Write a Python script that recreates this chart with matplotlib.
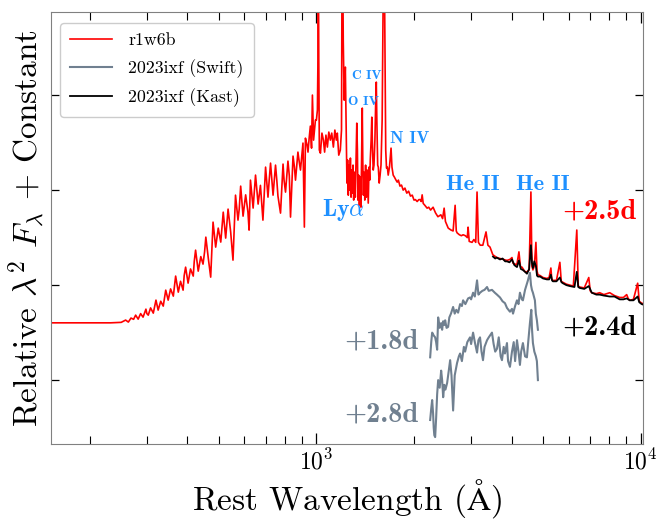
import numpy as np
import matplotlib
matplotlib.use('Agg')
from matplotlib import pyplot as plt
from matplotlib.ticker import NullFormatter

plt.rcParams['font.family'] = ['cmr10', 'DejaVu Serif']
plt.rcParams['mathtext.fontset'] = 'cm'
plt.rcParams['axes.formatter.use_mathtext'] = True

# model r1w6b (+2.5d), wavelength in Angstrom, flux in plot units
w_model = [153, 190, 232, 250,
           258, 263, 268, 273, 277, 282, 287, 292, 298, 300, 303, 308, 314, 320, 325, 331,
           337, 340, 343, 349, 355, 362, 368, 375, 381, 388, 391, 395, 402, 409, 417, 420,
           424, 432, 440, 447, 452, 456, 464, 472, 480, 489, 498, 507, 516, 520, 525, 534,
           544, 553, 563, 573, 578, 584, 594, 600, 605, 615, 620, 626, 638, 649, 655, 661,
           672, 684, 690, 697, 709, 715, 722, 735, 748, 755, 761, 775, 789, 795, 803, 817,
           825, 832, 847, 855, 862, 877, 885, 893, 909, 918, 925, 935, 942, 950, 958, 966,
           972, 980, 993,
           1000, 1007, 1011, 1014, 1017, 1021, 1029, 1040, 1051, 1060, 1070, 1081, 1092,
           1104, 1115, 1128, 1140, 1152, 1160, 1172, 1185, 1195, 1200, 1205, 1210, 1218,
           1228, 1236, 1242, 1248, 1254, 1260, 1266, 1273, 1279, 1285, 1291, 1297, 1303,
           1310, 1318, 1325, 1332, 1338, 1343, 1350, 1357, 1366, 1372, 1380, 1385, 1390,
           1396, 1403, 1410, 1418, 1426, 1435, 1445, 1453, 1460, 1466, 1475, 1482, 1490,
           1497, 1505, 1515, 1525, 1530, 1536, 1545, 1552, 1562, 1572, 1582, 1595, 1603,
           1610, 1619, 1628, 1636, 1645, 1655, 1665, 1680, 1699, 1710, 1725, 1740, 1760,
           1775, 1790, 1810, 1830, 1852, 1875, 1900, 1925, 1950, 1975, 2000,
           2020, 2045, 2070, 2089, 2105, 2119, 2135, 2160,
           2195, 2220, 2250, 2290, 2330, 2370, 2420, 2450, 2477, 2500, 2550, 2600, 2640,
           2678, 2700, 2716, 2760, 2800, 2834, 2880, 2920, 2936, 2960, 3020, 3060, 3100,
           3129, 3160, 3200, 3260, 3335, 3380, 3431, 3500, 3600, 3683, 3780, 3870, 3950,
           4010, 4040, 4100, 4154, 4213, 4260, 4303, 4360, 4400, 4460, 4530, 4587, 4620,
           4653, 4700, 4753, 4790, 4821, 4900, 5000, 5138, 5220, 5286, 5320, 5360, 5500,
           5634, 5690, 5754, 5900, 6045, 6200, 6354, 6420, 6490, 6700, 6918, 6990, 7066,
           7300, 7476, 7700, 8028, 8300, 8619, 8850, 9056, 9150, 9252, 9500, 9790, 9900,
           10071, 10288]
f_model = [1.603, 1.603, 1.603, 1.608,
           1.632, 1.611, 1.653, 1.640, 1.684, 1.642, 1.700, 1.663, 1.747, 1.700, 1.684, 1.760, 1.705, 1.842, 1.737, 1.830,
           1.779, 1.860, 1.947, 1.842, 1.960, 1.884, 2.095, 1.926, 2.040, 1.947, 2.100, 2.189, 2.021, 2.170, 2.095, 2.250,
           2.368, 2.147, 2.300, 2.221, 2.350, 2.505, 2.284, 2.084, 2.663, 2.400, 2.600, 2.453, 2.768, 2.650, 2.495, 2.800,
           2.558, 2.263, 2.947, 2.684, 2.800, 3.042, 2.726, 2.850, 2.950, 2.768, 2.579, 3.105, 2.811, 3.158, 3.000, 2.853,
           3.050, 2.684, 2.950, 3.242, 2.926, 3.100, 3.284, 2.947, 3.263, 3.100, 2.937, 2.758, 3.274, 3.100, 2.979, 3.305,
           3.150, 2.716, 3.358, 3.250, 3.105, 3.400, 3.300, 3.211, 3.495, 2.611, 3.547, 3.480, 3.400, 3.550, 3.674, 3.442,
           4.000, 3.526, 3.737,
           3.737, 3.842, 4.368, 5.500, 4.368, 3.421, 3.389, 3.600, 3.526, 3.400, 3.579, 3.453, 3.611,
           3.526, 3.600, 3.453, 3.632, 3.526, 3.600, 3.368, 3.421, 3.632, 5.500, 5.500, 4.579, 3.947,
           4.295, 3.632, 3.074, 3.316, 2.947, 3.263, 3.000, 3.337, 2.926, 3.211, 2.968, 3.263, 2.895,
           3.189, 2.926, 3.316, 3.705, 3.421, 2.895, 3.158, 2.842, 3.137, 2.821, 3.421, 3.863, 3.316,
           2.947, 3.189, 2.895, 3.263, 2.926, 3.211, 2.863, 3.242, 3.105, 3.316, 3.526, 3.768, 3.421,
           3.211, 3.263, 3.526, 4.000, 4.137, 3.737, 3.263, 3.242, 3.074, 3.158, 3.263, 3.737, 4.579,
           5.500, 5.500, 4.368, 3.421, 3.232, 3.242, 3.158, 3.242, 3.442, 3.242, 3.158, 3.137, 3.105,
           3.084, 3.105, 3.042, 3.053, 3.000, 3.021, 2.968, 2.989, 2.937, 2.947, 2.895,
           2.90, 2.88, 2.90, 2.90, 2.88, 2.95, 2.86, 2.84,
           2.81, 2.82, 2.79, 2.82, 2.76, 2.72, 2.74, 2.70, 2.81, 2.67, 2.60, 2.58, 2.57,
           2.84, 2.57, 2.55, 2.53, 2.52, 2.53, 2.52, 2.50, 2.61, 2.46, 2.45, 2.48, 2.45,
           2.98, 2.45, 2.42, 2.42, 2.56, 2.42, 2.40, 2.32, 2.29, 2.28, 2.27, 2.26, 2.27,
           2.29, 2.23, 2.22, 2.22, 2.35, 2.19, 2.19, 2.16, 2.14, 2.14, 2.16, 2.98, 2.20,
           2.16, 2.20, 2.45, 2.15, 2.11, 2.10, 2.08, 2.07, 2.08, 2.18, 2.06, 2.05, 2.05,
           2.24, 2.04, 2.03, 2.01, 2.00, 1.99, 2.58, 1.99, 1.98, 1.97, 2.08, 1.94, 1.92,
           1.91, 1.92, 1.90, 1.92, 1.89, 1.87, 1.87, 1.90, 1.86, 1.84, 1.85, 2.02, 1.83,
           1.81, 1.80]

# 2023ixf Kast optical (+2.4d)
w_kast = [3505, 3560, 3600, 3683, 3750, 3820, 3870, 3940, 4010, 4080, 4155, 4213, 4270,
          4330, 4400, 4460, 4530, 4587, 4620, 4653, 4700, 4753, 4790, 4821, 4900, 5000,
          5138, 5220, 5286, 5330, 5360, 5500, 5634, 5700, 5754, 5900, 6045, 6250, 6354,
          6420, 6490, 6700, 6918, 7066, 7300, 7476, 7700, 8028, 8300, 8619, 8850, 9056,
          9252, 9500, 9790, 9900, 10071, 10288]
f_kast = [2.30, 2.28, 2.29, 2.27, 2.28, 2.25, 2.25, 2.24, 2.27, 2.21, 2.19, 2.26, 2.17,
          2.16, 2.14, 2.12, 2.17, 2.42, 2.24, 2.18, 2.25, 2.20, 2.10, 2.09, 2.09, 2.07,
          2.06, 2.06, 2.11, 2.05, 2.04, 2.04, 2.08, 2.03, 2.02, 2.00, 1.99, 1.98, 2.14,
          1.98, 1.97, 1.96, 1.99, 1.92, 1.90, 1.90, 1.89, 1.88, 1.88, 1.85, 1.85, 1.86,
          1.84, 1.84, 1.88, 1.82, 1.80, 1.79]

# 2023ixf Swift UV (+1.8d)
w_sw1 = [2243, 2260, 2275, 2300, 2324, 2340, 2357, 2374, 2400, 2425, 2442, 2460, 2480,
         2495, 2520, 2548, 2570, 2600, 2640, 2670, 2700, 2735, 2774, 2810, 2834, 2880,
         2936, 2977, 3000, 3042, 3080, 3129, 3160, 3196, 3250, 3300, 3359, 3400, 3479,
         3550, 3605, 3683, 3750, 3815, 3870, 3953, 4010, 4040, 4100, 4155, 4200, 4243,
         4300, 4334, 4400, 4491, 4555, 4590, 4620, 4653, 4719, 4750, 4786, 4821]
f_sw1 = [1.24, 1.40, 1.50, 1.47, 1.45, 1.40, 1.32, 1.66, 1.55, 1.60, 1.53, 1.62, 1.58,
         1.63, 1.55, 1.56, 1.66, 1.70, 1.77, 1.70, 1.74, 1.71, 1.80, 1.78, 1.84, 1.80,
         1.86, 1.87, 1.85, 1.92, 1.88, 2.05, 1.90, 1.92, 1.94, 1.95, 1.98, 1.94, 1.95,
         1.92, 1.90, 1.87, 1.83, 1.81, 1.76, 1.72, 1.75, 1.70, 1.78, 1.84, 1.80, 1.92,
         1.85, 1.84, 1.95, 2.05, 2.13, 2.00, 1.95, 1.92, 1.84, 1.70, 1.63, 1.53]

# 2023ixf Swift UV (+2.8d)
w_sw2 = [2243, 2260, 2275, 2290, 2300, 2310, 2324, 2340, 2357, 2374, 2400, 2425, 2442,
         2460, 2480, 2500, 2530, 2560, 2585, 2610, 2640, 2670, 2715, 2750, 2774, 2810,
         2850, 2875, 2920, 2977, 3000, 3042, 3080, 3129, 3160, 3196, 3230, 3264, 3300,
         3359, 3400, 3479, 3520, 3560, 3605, 3650, 3700, 3735, 3780, 3815, 3870, 3900,
         3953, 4010, 4060, 4100, 4155, 4200, 4243, 4280, 4334, 4400, 4459, 4500, 4555,
         4600, 4620, 4653, 4700, 4752, 4786, 4821]
f_sw2 = [0.58, 0.70, 0.79, 0.65, 0.50, 0.42, 0.40, 0.60, 0.85, 1.00, 0.92, 1.10, 1.00,
         0.82, 0.95, 0.90, 0.97, 1.10, 1.21, 1.05, 0.68, 1.05, 1.18, 1.25, 1.28, 1.20,
         1.35, 1.30, 1.40, 1.45, 1.38, 1.50, 1.40, 1.29, 1.42, 1.45, 1.30, 1.21, 1.35,
         1.42, 1.45, 1.50, 1.38, 1.30, 1.33, 1.45, 1.25, 1.21, 1.35, 1.28, 1.39, 1.20,
         1.14, 1.30, 1.40, 1.20, 1.42, 1.30, 1.16, 1.30, 1.39, 1.25, 1.24, 1.40, 1.60,
         1.74, 1.55, 1.39, 1.30, 1.25, 1.20, 1.00]

blue = '#1e90ff'
grey = '#708090'
bold = 'cmb10'

fig = plt.figure(figsize=(6.64, 5.25), dpi=100)
ax = fig.add_axes([0.077, 0.154, 0.891, 0.823])

ax.plot(w_model, f_model, color='red', lw=1.2, label='r1w6b', zorder=2)
ax.plot(w_sw1, f_sw1, color=grey, lw=1.5, label='2023ixf (Swift)', zorder=3)
ax.plot(w_sw2, f_sw2, color=grey, lw=1.5, zorder=3)
ax.plot(w_kast, f_kast, color='black', lw=1.3, label='2023ixf (Kast)', zorder=3)

ax.set_xscale('log')
ax.set_xlim(152, 10150)
ax.set_ylim(0.326, 4.874)
ax.set_yticks([1, 2, 3, 4])
ax.set_yticklabels([])
ax.xaxis.set_minor_formatter(NullFormatter())

ax.tick_params(which='both', direction='in', top=True, right=True, labelsize=17)
ax.tick_params(axis='x', which='major', length=8, width=0.9)
ax.tick_params(axis='x', which='minor', length=6, width=0.8)
ax.tick_params(axis='y', which='major', length=6, width=0.9)
for s in ax.spines.values():
    s.set_color('0.5')

ax.set_xlabel(r'Rest Wavelength ($\mathrm{\AA}$)', fontsize=24, labelpad=2)
ax.set_ylabel(r'Relative $\lambda^2$ $F_\lambda$ + Constant', fontsize=24, labelpad=-1)

# line IDs
ax.text(1210, 2.79, r'$\mathbf{Ly}\alpha$', color=blue, fontsize=17, ha='center', va='center')
ax.text(1290, 4.20, 'C IV', family=bold, color=blue, fontsize=9.6, ha='left', va='center')
ax.text(1254, 3.93, 'O IV', family=bold, color=blue, fontsize=10, ha='left', va='center')
ax.text(1690, 3.54, 'N IV', family=bold, color=blue, fontsize=12.5, ha='left', va='center')
ax.text(3041, 3.06, 'He II', family=bold, color=blue, fontsize=16.3, ha='center', va='center')
ax.text(4977, 3.06, 'He II', family=bold, color=blue, fontsize=16.3, ha='center', va='center')

# epochs
ax.text(9750, 2.78, '+2.5d', family=bold, color='red', fontsize=20.5, ha='right', va='center')
ax.text(9750, 1.56, '+2.4d', family=bold, color='black', fontsize=20.5, ha='right', va='center')
ax.text(2060, 1.41, '+1.8d', family=bold, color=grey, fontsize=20.5, ha='right', va='center')
ax.text(2060, 0.64, '+2.8d', family=bold, color=grey, fontsize=20.5, ha='right', va='center')

ax.legend(loc='upper left', fontsize=12.8, handlelength=2.4, handletextpad=0.9,
          framealpha=1, borderpad=0.55, labelspacing=0.6, bbox_to_anchor=(0.0, 0.995))

fig.savefig('out.png', dpi=100)
